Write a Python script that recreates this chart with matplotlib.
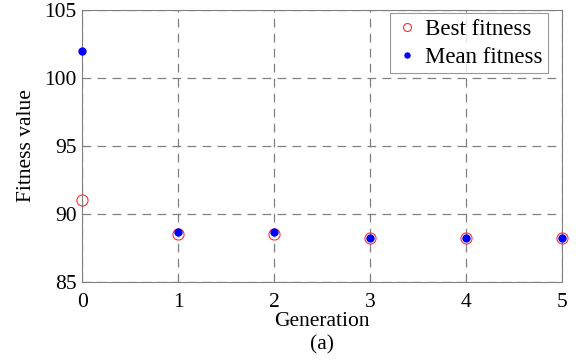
import matplotlib
matplotlib.use("Agg")
import matplotlib.pyplot as plt

generation = [0, 1, 2, 3, 4, 5]
best_fitness = [91.0, 88.5, 88.5, 88.2, 88.2, 88.2]
mean_fitness = [102.0, 88.65, 88.65, 88.2, 88.2, 88.2]

plt.rcParams['font.family'] = ['Liberation Serif', 'DejaVu Serif']

fig = plt.figure(figsize=(5.78, 3.6), dpi=100)
ax = fig.add_axes([0.142, 0.217, 0.83, 0.755])

ax.plot(generation, best_fitness, 'o', markerfacecolor='none', markeredgecolor='#ff3030',
        markersize=8, markeredgewidth=0.8, clip_on=False, zorder=3, label='Best fitness')
ax.plot(generation, mean_fitness, 'o', color='#0000ff', markersize=5,
        clip_on=False, zorder=4, label='Mean fitness')

ax.set_xlim(0, 5)
ax.set_ylim(85, 105)
ax.set_xticks(range(0, 6))
ax.set_yticks(range(85, 106, 5))
ax.grid(True, linestyle=(0, (7, 5)), color='#808080', linewidth=0.9)
for s in ax.spines.values():
    s.set_color('#808080')
ax.tick_params(axis='y', length=0, labelsize=15.5, colors='black', pad=4)
ax.tick_params(axis='x', length=0, labelsize=15.5, colors='black', pad=8)
ax.set_xlabel('Generation\n(a)', fontsize=15.5, labelpad=0, linespacing=1.3)
ax.set_ylabel('Fitness value', fontsize=15.5, labelpad=6)

leg = ax.legend(loc='upper right', bbox_to_anchor=(0.971, 0.989), fontsize=16.5,
                frameon=True, fancybox=False, borderpad=0.25, handletextpad=0.25,
                labelspacing=0.3, handlelength=1.0, borderaxespad=0, markerscale=0.72)
leg.get_frame().set_edgecolor('#808080')
leg.get_frame().set_linewidth(0.8)

fig.savefig('out.png', dpi=100)
